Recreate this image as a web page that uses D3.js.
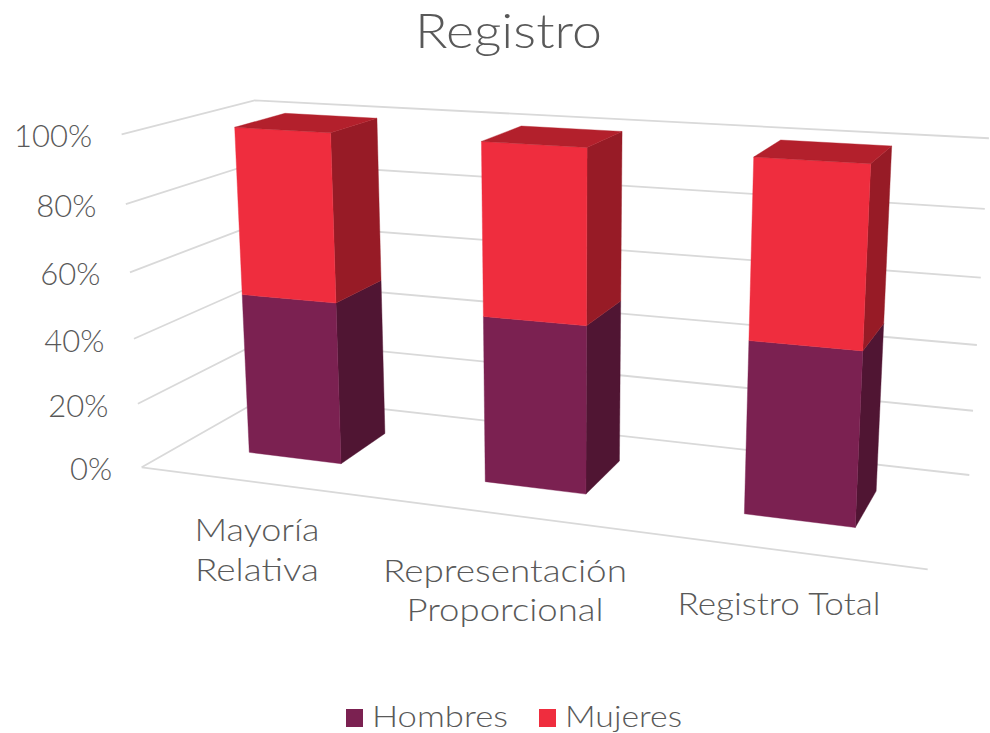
<!DOCTYPE html><html><head><meta charset="utf-8"><script src="https://cdn.jsdelivr.net/npm/d3@7"></script></head><body style="margin:0;background:#fff"><svg id="c" width="990" height="733" style="display:block"></svg><script>
const categories=[["Mayoría","Relativa"],["Representación","Proporcional"],["Registro Total"]];
const hombres=[50,50,50];
const mujeres=[50,50,50];
const ticks=[0,20,40,60,80,100];
const colors={Hombres:{front:"#7b2151",side:"#501533"},Mujeres:{front:"#ef2d3e",side:"#971b26",top:"#b3202c"}};
function sq(p){const [x0,y0]=p[0],[x1,y1]=p[1],[x2,y2]=p[2],[x3,y3]=p[3];
const dx1=x1-x2,dx2=x3-x2,sx=x0-x1+x2-x3,dy1=y1-y2,dy2=y3-y2,sy=y0-y1+y2-y3;
const det=dx1*dy2-dx2*dy1,g=(sx*dy2-dx2*sy)/det,h=(dx1*sy-sx*dy1)/det;
return [x1-x0+g*x1,x3-x0+h*x3,x0,y1-y0+g*y1,y3-y0+h*y3,y0,g,h,1];}
function ap(m,u,d){const w=m[6]*u+m[7]*d+1;return [(m[0]*u+m[1]*d+m[2])/w,(m[3]*u+m[4]*d+m[5])/w];}
const H0=sq([[141.7,467.3],[927.7,569.3],[969.3,475],[267,396]]);
const rU=[.1,.9],rD=[.3,.7];
const H1r=sq([[234.7,127.3],[870.7,163.7],[891.7,146],[285,113.3]]);
const ro=(u,d)=>ap(H1r,(u-rU[0])/(rU[1]-rU[0]),(d-rD[0])/(rD[1]-rD[0]));
const persp=v=>v/(v+(1-v)*1.06);
const yS=d3.scaleLinear().domain([0,100]).range([0,1]);
const xS=d3.scaleBand().domain(d3.range(categories.length)).range([0,1]).paddingInner(.6).paddingOuter(.3);
const dS=d3.scaleLinear().domain([0,1]).range([.3,.7]);
function P(u,val,d){const t=persp(yS(val)),a=ap(H0,u,d),b=ro(u,d);return [a[0]+(b[0]-a[0])*t,a[1]+(b[1]-a[1])*t];}
const svg=d3.select("#c");const line=d3.line();
const txt="#595959",grid="#d9d9d9",font="Lato, 'Open Sans', sans-serif";
const g=svg.append("g");
ticks.forEach(t=>{
 g.append("path").attr("d",line([P(0,t,0),P(0,t,1),P(1,t,1)])).attr("fill","none").attr("stroke",grid).attr("stroke-width",1.8);
});
g.append("path").attr("d",line([P(0,0,0),P(1,0,0)])).attr("fill","none").attr("stroke",grid).attr("stroke-width",1.8);
const face=(pts,c)=>svg.append("path").attr("d",line(pts)+"Z").attr("fill",c).attr("stroke",c).attr("stroke-width",.4);
categories.forEach((_,i)=>{
 const u0=xS(i),u1=u0+xS.bandwidth(),d0=dS(0),d1=dS(1);
 const h=hombres[i],m=h+mujeres[i];
 face([P(u1,0,d0),P(u1,0,d1),P(u1,h,d1),P(u1,h,d0)],colors.Hombres.side);
 face([P(u0,0,d0),P(u1,0,d0),P(u1,h,d0),P(u0,h,d0)],colors.Hombres.front);
 face([P(u1,h,d0),P(u1,h,d1),P(u1,m,d1),P(u1,m,d0)],colors.Mujeres.side);
 face([P(u0,h,d0),P(u1,h,d0),P(u1,m,d0),P(u0,m,d0)],colors.Mujeres.front);
 face([P(u0,m,d0),P(u1,m,d0),P(u1,m,d1),P(u0,m,d1)],colors.Mujeres.top);
});
function T(s,x,y,size,w,anchor){const e=svg.append("text").attr("x",x).attr("y",y).attr("font-family",font).attr("font-weight",300).attr("font-size",size).attr("fill",txt).attr("text-anchor",anchor||"middle").text(s);
 if(w)e.attr("textLength",w).attr("lengthAdjust","spacingAndGlyphs");return e;}
T("Registro",508.5,47.5,47,187);
ticks.forEach(t=>{const p=P(0,t,0);T(t+"%",p[0]-29.5,p[1]+13,31,null,"end");});
const labelY=[[541,581],[582,621],[615]],labelX=[257,505,779],labelW=[[125,124],[244,197],[203]];
categories.forEach((ls,i)=>ls.forEach((s,j)=>T(s,labelX[i],labelY[i][j],31,labelW[i][j])));
[["Hombres",346,372,136,colors.Hombres.front],["Mujeres",539,565,117,colors.Mujeres.front]].forEach(([s,sx,tx,w,c])=>{
 svg.append("rect").attr("x",sx).attr("y",709).attr("width",17).attr("height",18).attr("fill",c);
 T(s,tx,727,29,w,"start");
});
</script></body></html>
